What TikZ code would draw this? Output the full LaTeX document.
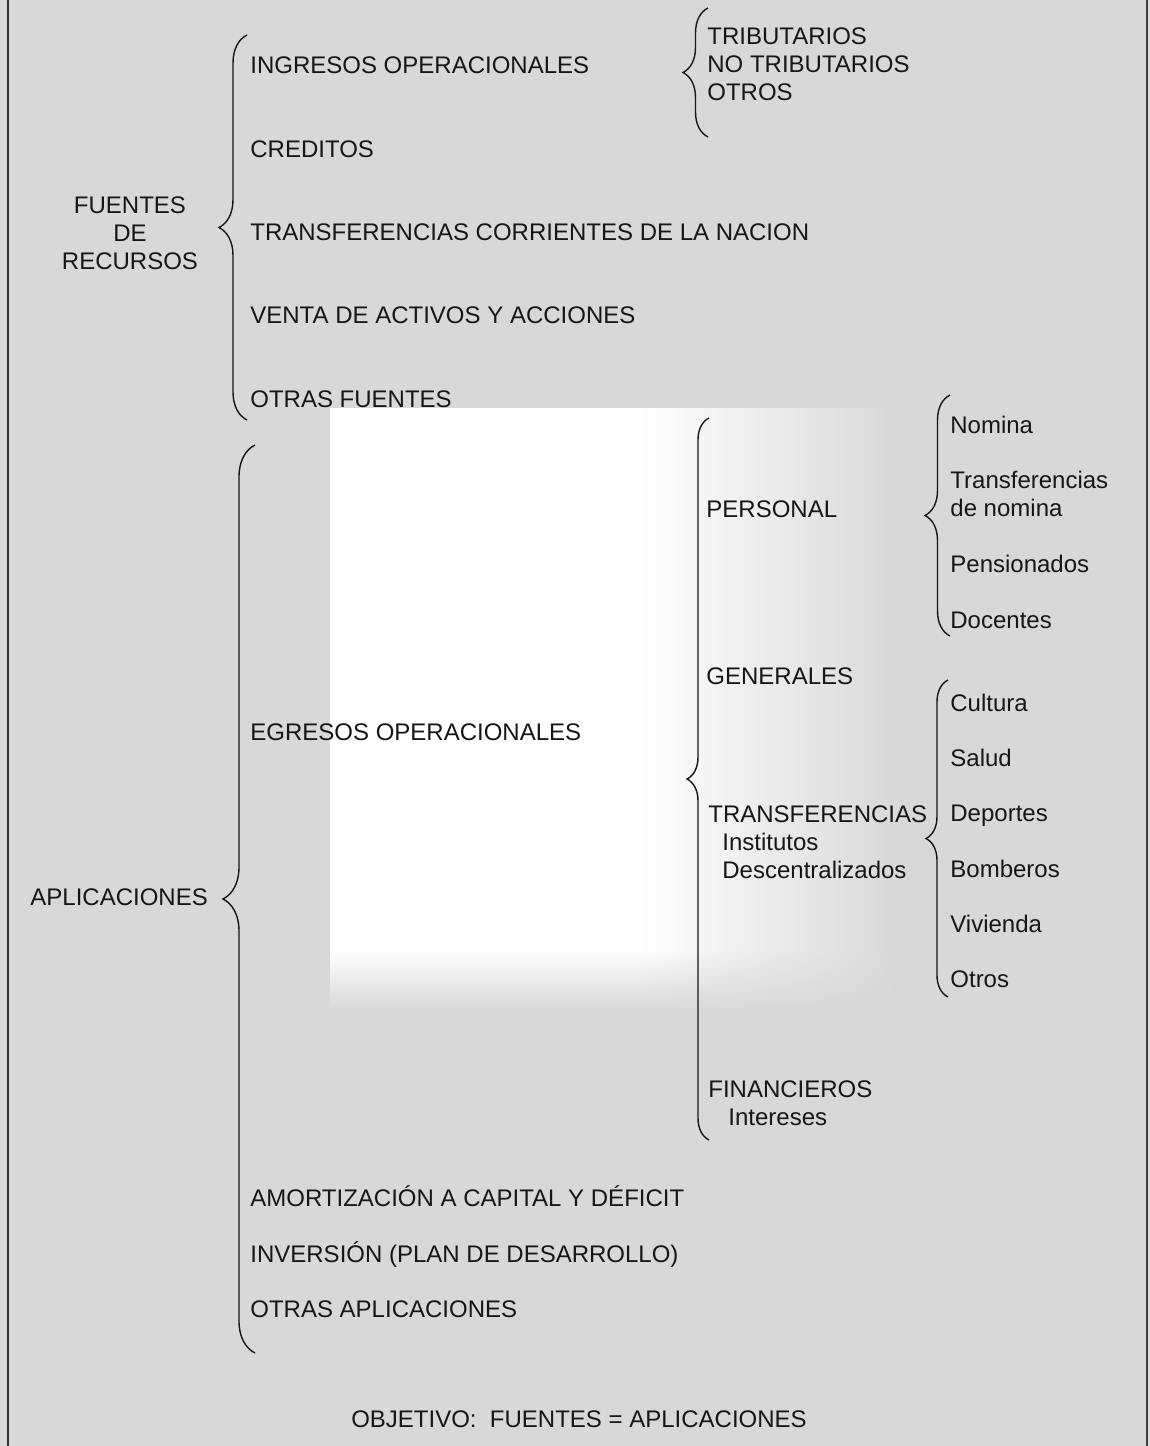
\documentclass[tikz,border=0pt]{standalone}
\usepackage{fontspec}
\setmainfont{Liberation Sans}
\usetikzlibrary{decorations.pathreplacing,shadings}
\definecolor{paper}{RGB}{216,216,216}
\definecolor{ink}{RGB}{22,22,22}
\begin{document}
\begin{tikzpicture}[x=0.5pt,y=-0.5pt,
  every node/.style={font=\fontsize{12}{14}\selectfont,text=ink,inner sep=0pt},
  item/.style={anchor=base west},
  curly/.style={draw=ink,line width=0.7pt,decorate,decoration={brace,amplitude=#1}},
  curly/.default=11pt]
%\draw[gray,very thin] (0,0) grid[step=50] (1150,1446);
\useasboundingbox (0,0) rectangle (1150,1446);
\fill[paper] (0,0) rectangle (1150,1446);
\fill[white] (330,408) rectangle (640,950);
\shade[left color=white,right color=paper] (639,408) rectangle (900,950);
\shade[top color=white,bottom color=paper] (330,949) rectangle (640,1010);
\shade[upper left=white,upper right=paper,lower left=paper,lower right=paper] (639,949) rectangle (900,1010);
\draw[gray!40!black,line width=1.2pt] (8,0) -- (8,1446);
\draw[gray!50!black,line width=0.8pt] (1147,0) -- (1147,1446);

% fuentes
\node[align=center] (fuentes) at (130,233) {FUENTES\\DE\\RECURSOS};
\draw[curly=14pt] (247,420) coordinate (fu-bot) -- (247,35) coordinate (fu-top);
\node[item] (ingresos) at (250,73.5) {INGRESOS OPERACIONALES};
\node[item] (creditos) at (250,157.5) {CREDITOS};
\node[item] (transnac) at (250,240.5) {TRANSFERENCIAS CORRIENTES DE LA NACION};
\node[item] (venta) at (250,323.5) {VENTA DE ACTIVOS Y ACCIONES};
\node[item] (otrasfu) at (250,407.5) {OTRAS FUENTES};
\draw[curly=12.5pt] (708,137) coordinate (in-bot) -- (708,8) coordinate (in-top);
\node[anchor=west,align=left] (tributos) at (707,64) {TRIBUTARIOS\\NO TRIBUTARIOS\\OTROS};

% aplicaciones
\node[anchor=base west] (aplic) at (30,905.5) {APLICACIONES};
\draw[curly=16pt] (255,1353) coordinate (ap-bot) -- (255,445) coordinate (ap-top);
\node[item] (egresos) at (250,740.5) {EGRESOS OPERACIONALES};
\node[item] (amort) at (250,1206.5) {AMORTIZACIÓN A CAPITAL Y DÉFICIT};
\node[item] (inversion) at (250,1262.5) {INVERSIÓN (PLAN DE DESARROLLO)};
\node[item] (otrasap) at (250,1317.5) {OTRAS APLICACIONES};

% egresos operacionales
\draw[curly=11pt] (709,1140) coordinate (eg-bot) -- (709,418) coordinate (eg-top);
\node[item] (personal) at (706,517.5) {PERSONAL};
\node[item] (generales) at (706,684.5) {GENERALES};
\node[item] (transf) at (708,822.5) {TRANSFERENCIAS};
\node[anchor=west,align=left] (institutos) at (722,856) {Institutos\\Descentralizados};
\node[item] (financ) at (708,1097.5) {FINANCIEROS};
\node[item] (intereses) at (728,1125.5) {Intereses};

% personal
\draw[curly=12.5pt] (950,636) coordinate (pe-bot) -- (950,395) coordinate (pe-top);
\node[item] (nomina) at (950,433.5) {Nomina};
\node[anchor=west,align=left] (transnom) at (950,494) {Transferencias\\de nomina};
\node[item] (pension) at (950,572.5) {Pensionados};
\node[item] (docentes) at (950,628.5) {Docentes};

% transferencias
\draw[curly=11pt] (948,997) coordinate (tr-bot) -- (948,680) coordinate (tr-top);
\foreach \t [count=\i from 0] in {Cultura,Salud,Deportes,Bomberos,Vivienda,Otros}
  \node[item] (sub\i) at (950,711.5+55.2*\i) {\t};

\node[anchor=base] (objetivo) at (579,1427.5) {OBJETIVO:\ \ FUENTES = APLICACIONES};
\end{tikzpicture}
\end{document}
